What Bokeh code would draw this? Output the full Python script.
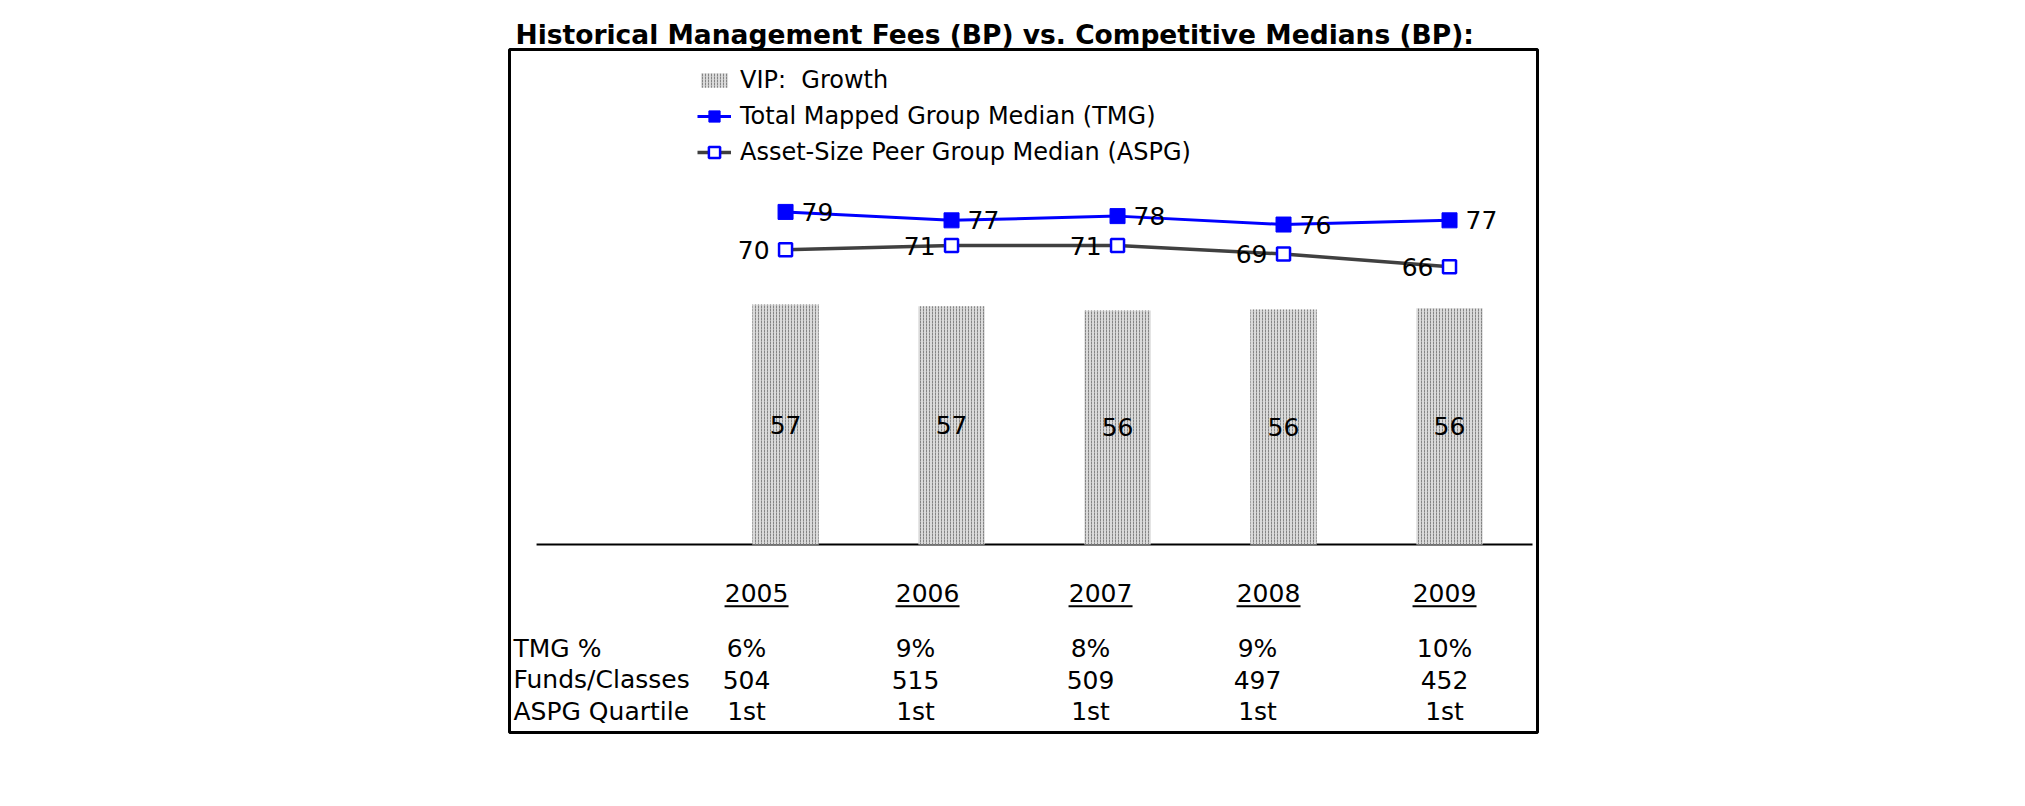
from bokeh.plotting import figure
from bokeh.models import Range1d, ColumnDataSource, Legend, LegendItem
from bokeh.core.properties import value
from bokeh.embed import file_html
from bokeh.resources import INLINE

# ---------------- data ----------------
years = [2005, 2006, 2007, 2008, 2009]
year_labels = ["2005", "2006", "2007", "2008", "2009"]
vip_growth = [57.0, 56.6, 55.6, 55.8, 56.1]          # bars (BP)
tmg_median = [79, 77, 78, 76, 77]                    # Total Mapped Group Median
aspg_median = [70, 71, 71, 69, 66]                   # Asset-Size Peer Group Median
tmg_pct = ["6%", "9%", "8%", "9%", "10%"]
funds_classes = ["504", "515", "509", "497", "452"]
aspg_quartile = ["1st", "1st", "1st", "1st", "1st"]
row_labels = ["TMG %", "Funds/Classes", "ASPG Quartile"]

title_text = "Historical Management Fees (BP) vs. Competitive Medians (BP):"

# ---------------- layout constants ----------------
FONT = "DejaVu Sans"
PX_PER_YEAR = 166.0
X_START, X_END = 2003.337, 2009.530
Y_START, Y_END = -44.66, 117.58
HEADER_DX = [-29, -24, -17, -15, -5]     # table column shifts (px)
VALUE_DX = [-39, -36, -27, -26, -5]
HEADER_Y, UNDERLINE_Y = -11.6, -14.7
ROW_Y = [-24.7, -32.1, -39.7]

p = figure(width=2000, height=780,
           x_range=Range1d(X_START, X_END), y_range=Range1d(Y_START, Y_END),
           output_backend="svg", toolbar_location=None,
           x_axis_location=None, y_axis_location=None,
           min_border_left=509, min_border_right=463,
           min_border_top=49, min_border_bottom=48)
p.grid.visible = False
p.outline_line_color = "black"
p.outline_line_width = 3
p.background_fill_color = "white"
p.border_fill_color = "white"

p.title.text = title_text
p.title.text_font = FONT
p.title.text_font_style = "bold"
p.title.text_font_size = "26.5px"
p.title.text_color = "black"
p.title.align = "left"
p.title.offset = 6
p.title.standoff = 0

src = ColumnDataSource(dict(
    x=years, vip=vip_growth, vip_mid=[v / 2 for v in vip_growth],
    vip_lbl=[f"{v:.0f}" for v in vip_growth],
    tmg=tmg_median, tmg_lbl=[str(v) for v in tmg_median],
    aspg=aspg_median, aspg_lbl=[str(v) for v in aspg_median],
))

# baseline (category axis line)
p.segment(x0=[years[0] - 1.5], y0=[0], x1=[years[-1] + 0.5], y1=[0],
          line_color="black", line_width=2)

bars = p.vbar(x="x", top="vip", width=0.4, bottom=0, source=src,
              fill_color="#dadada", line_color=None,
              hatch_pattern="vertical_dash", hatch_color="#858585",
              hatch_scale=3, hatch_weight=1)

p.text(x="x", y="vip_mid", text="vip_lbl", source=src,
       text_align="center", text_baseline="middle",
       text_font=value(FONT), text_font_size="25px", text_color="black")

tmg_line = p.line(x="x", y="tmg", source=src, line_color="#0000FF", line_width=3)
tmg_pts = p.scatter(x="x", y="tmg", source=src, marker="square", size=15,
                    fill_color="#0000FF", line_color="#0000FF")
aspg_line = p.line(x="x", y="aspg", source=src, line_color="#404040", line_width=3.5)
aspg_pts = p.scatter(x="x", y="aspg", source=src, marker="square", size=13,
                     fill_color="white", line_color="#0000FF", line_width=2.5)

p.text(x="x", y="tmg", text="tmg_lbl", source=src, x_offset=16,
       text_align="left", text_baseline="middle",
       text_font=value(FONT), text_font_size="25px", text_color="black")
p.text(x="x", y="aspg", text="aspg_lbl", source=src, x_offset=-16,
       text_align="right", text_baseline="middle",
       text_font=value(FONT), text_font_size="25px", text_color="black")

# ---------------- table below the chart ----------------
hx = [y + d / PX_PER_YEAR for y, d in zip(years, HEADER_DX)]
vx = [y + d / PX_PER_YEAR for y, d in zip(years, VALUE_DX)]

p.text(x=hx, y=[HEADER_Y] * 5, text=year_labels, text_align="center",
       text_baseline="middle", text_font=value(FONT), text_font_size="25px",
       text_color="black")
p.rect(x=hx, y=[UNDERLINE_Y] * 5, width=64, height=2, width_units="screen",
       height_units="screen", fill_color="black", line_color=None)

for ry, row in zip(ROW_Y, [tmg_pct, funds_classes, aspg_quartile]):
    p.text(x=vx, y=[ry] * 5, text=row, text_align="center", text_baseline="middle",
           text_font=value(FONT), text_font_size="25px", text_color="black")

p.text(x=[X_START] * 3, y=ROW_Y, text=row_labels, x_offset=4,
       text_align="left", text_baseline="middle",
       text_font=value(FONT), text_font_size="25px", text_color="black")


# ---------------- legend ----------------
def style_legend(lg, glyph_h):
    lg.border_line_alpha = 0
    lg.background_fill_alpha = 0
    lg.padding = 0
    lg.margin = 0
    lg.spacing = 8
    lg.label_height = 28
    lg.glyph_height = glyph_h
    lg.glyph_width = 34
    lg.label_standoff = 9
    lg.label_text_font = FONT
    lg.label_text_font_size = "24px"
    lg.label_text_color = "black"
    lg.label_text_baseline = "middle"


legend_bar = Legend(items=[LegendItem(label="VIP:  Growth", renderers=[bars])],
                    location=(188, 638))
style_legend(legend_bar, 18)
legend_lines = Legend(items=[
    LegendItem(label="Total Mapped Group Median (TMG)", renderers=[tmg_line, tmg_pts]),
    LegendItem(label="Asset-Size Peer Group Median (ASPG)", renderers=[aspg_line, aspg_pts]),
], location=(188, 566))
style_legend(legend_lines, 28)
p.add_layout(legend_bar)
p.add_layout(legend_lines)

open("out.html", "w").write(file_html(p, INLINE))
